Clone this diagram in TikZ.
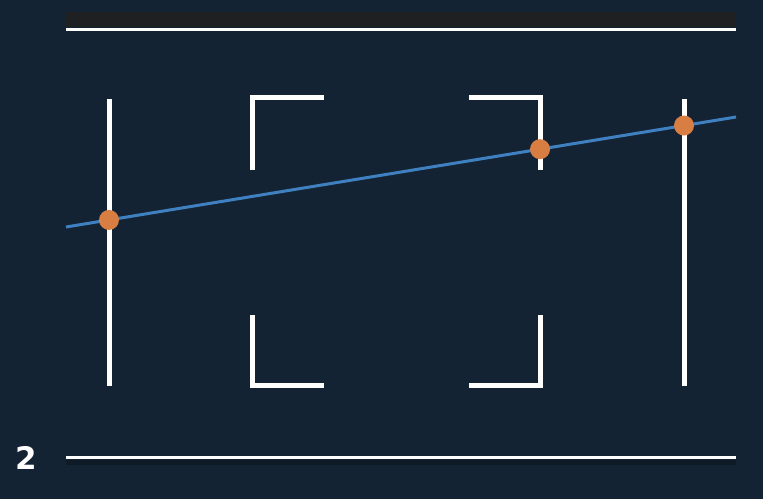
\documentclass[tikz,border=0pt]{standalone}
\usepackage{fontspec}
\setsansfont{DejaVu Sans}
\usetikzlibrary{calc}
\definecolor{navy}{RGB}{19,35,52}
\definecolor{strip}{RGB}{31,32,34}
\definecolor{dusk}{RGB}{14,26,38}
\definecolor{ray}{RGB}{62,128,192}
\definecolor{dot}{RGB}{217,126,66}
\tikzset{
  bar/.style={draw=white, line width=5pt},
  rule/.style={draw=white, line width=3pt},
  pin/.style={circle, fill=dot, inner sep=0pt, minimum size=20pt}
}
\begin{document}
\begin{tikzpicture}[x=1pt, y=-1pt]
\def\xl{66};
\def\xr{736};
\def\xa{109};
\def\xb{252};
\def\xbb{324};
\def\xc{469};
\def\xd{540};
\def\xe{684};

\def\ya{97};
\def\yb{170};
\def\yc{315};
\def\yd{385};

\useasboundingbox (0,0) rectangle (763,499);
\fill[navy] (0,0) rectangle (763,499);

% top and bottom rules
\fill[strip] (\xl, 12) rectangle (\xr, 27);
\draw[rule] (\xl, 29) -- (\xr, 29);
\draw[draw=dusk, line width=5pt] (\xl, 462) -- (\xr, 462);
\draw[rule] (\xl, 457) -- (\xr, 457);
\node[text=white, font=\sffamily\bfseries\fontsize{31}{31}\selectfont] (num) at (26, 458) {2};

% uprights
\draw[bar] (\xa, 99) -- (\xa, 386);
\draw[bar] (\xe, 99) -- (\xe, 386);

% corner brackets
\draw[bar] (\xb, \yb) -- (\xb, \ya) -- (\xbb, \ya);
\draw[bar] (\xc, \ya) -- (\xd, \ya) -- (\xd, \yb);
\draw[bar] (\xb, \yc) -- (\xb, \yd) -- (\xbb, \yd);
\draw[bar] (\xc, \yd) -- (\xd, \yd) -- (\xd, \yc);

% ray and hits
\coordinate (s) at (\xl, 227);
\coordinate (t) at (\xr, 117);
\draw[draw=ray, line width=3pt] (s) -- (t);

\node[pin] (p) at ($(s)!0.0642!(t)$) {};
\node[pin] (q) at ($(s)!0.7075!(t)$) {};
\node[pin] (r) at ($(s)!0.9224!(t)$) {};

\end{tikzpicture}
\end{document}
